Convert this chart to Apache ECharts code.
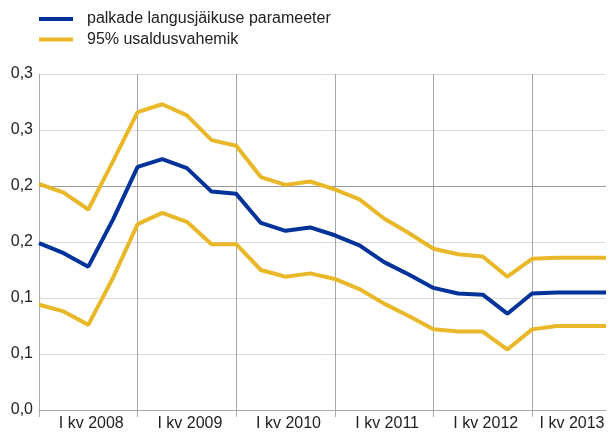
<!DOCTYPE html>
<html>
<head>
<meta charset="utf-8">
<script src="https://cdn.jsdelivr.net/npm/echarts@6/dist/echarts.min.js"></script>
<style>
  html, body { margin: 0; padding: 0; background: #fff; }
  #chart { width: 609px; height: 432px; }
</style>
</head>
<body>
<div id="chart"></div>
<script>
// Quarters 2008 Q1 – 2013 Q4
const years = [2008, 2009, 2010, 2011, 2012, 2013];
const quarterNames = ['I', 'II', 'III', 'IV'];
const quarters = [];
years.forEach(y => quarterNames.forEach(q => quarters.push(q + ' kv ' + y)));

// Wage rigidity parameter and its 95% confidence band
const parameter = [0.149, 0.140, 0.128, 0.170, 0.217, 0.224, 0.216, 0.195,
                   0.193, 0.167, 0.160, 0.163, 0.156, 0.147, 0.132, 0.121,
                   0.109, 0.104, 0.103, 0.086, 0.104, 0.105, 0.105, 0.105];
const upperBand = [0.202, 0.194, 0.179, 0.222, 0.266, 0.273, 0.263, 0.241,
                   0.236, 0.208, 0.201, 0.204, 0.197, 0.188, 0.171, 0.158,
                   0.144, 0.139, 0.137, 0.119, 0.135, 0.136, 0.136, 0.136];
const lowerBand = [0.094, 0.088, 0.076, 0.118, 0.166, 0.176, 0.168, 0.148,
                   0.148, 0.125, 0.119, 0.122, 0.117, 0.108, 0.095, 0.084,
                   0.072, 0.070, 0.070, 0.054, 0.072, 0.075, 0.075, 0.075];

const seriesNames = ['palkade langusjäikuse parameeter', '95% usaldusvahemik'];
const blue = '#003399';
const yellow = '#E8B829';
const font = '"Liberation Sans", Arial, sans-serif';

// Year labels sit in the middle of each year's span on the index scale
const lastIdx = quarters.length - 1;
const yearLabelAt = {};
years.forEach((y, k) => {
  const start = k * 4;
  const end = Math.min(start + 4, lastIdx);
  yearLabelAt[(start + end) / 2] = 'I kv ' + y;
});

const chart = echarts.init(document.getElementById('chart'));
chart.setOption({
  animation: false,
  textStyle: { fontFamily: font },
  grid: { left: 39, right: 0, top: 74, bottom: 22, containLabel: false },
  legend: {
    orient: 'vertical',
    left: 39,
    top: 10,
    padding: 0,
    icon: 'rect',
    itemWidth: 34,
    itemHeight: 4,
    itemGap: 2.5,
    data: seriesNames,
    textStyle: { fontSize: 16, color: '#222', lineHeight: 18, padding: [0, 0, 0, 9], fontFamily: font }
  },
  xAxis: [
    {
      type: 'category',
      data: quarters,
      boundaryGap: false,
      axisLine: { show: true, lineStyle: { color: '#aaa', width: 1 } },
      axisTick: { show: true, length: 7, interval: i => i % 4 === 0, lineStyle: { color: '#aaa' } },
      axisLabel: { show: false },
      splitLine: { show: true, interval: i => i % 4 === 0, lineStyle: { color: '#a6a6a6', width: 1 } }
    },
    {
      type: 'value',
      position: 'bottom',
      min: 0,
      max: lastIdx,
      interval: 0.5,
      axisLine: { show: false },
      axisTick: { show: false },
      splitLine: { show: false },
      axisLabel: {
        margin: 6,
        fontSize: 16,
        color: '#222',
        fontFamily: font,
        padding: [0, 0, 0, 6],
        showMinLabel: true,
        showMaxLabel: true,
        formatter: v => yearLabelAt[Math.round(v * 2) / 2] || ''
      }
    }
  ],
  yAxis: {
    type: 'value',
    min: 0,
    max: 0.3,
    interval: 0.05,
    axisLine: { show: true, lineStyle: { color: '#aaa' } },
    axisTick: { show: false },
    axisLabel: {
      margin: 6,
      fontSize: 16,
      color: '#222',
      fontFamily: font,
      formatter: v => (Math.round(v * 10 + 1e-9) / 10).toFixed(1).replace('.', ',')
    },
    splitLine: {
      show: true,
      lineStyle: { color: ['#dcdcdc', '#dcdcdc', '#dcdcdc', '#dcdcdc', '#9a9a9a', '#dcdcdc', '#dcdcdc'], width: 1 }
    }
  },
  series: [
    {
      name: seriesNames[1],
      type: 'line',
      data: upperBand,
      showSymbol: false,
      symbol: 'none',
      lineStyle: { color: yellow, width: 4 },
      itemStyle: { color: yellow }
    },
    {
      name: seriesNames[1],
      type: 'line',
      data: lowerBand,
      showSymbol: false,
      symbol: 'none',
      lineStyle: { color: yellow, width: 4 },
      itemStyle: { color: yellow }
    },
    {
      name: seriesNames[0],
      type: 'line',
      data: parameter,
      showSymbol: false,
      symbol: 'none',
      lineStyle: { color: blue, width: 4 },
      itemStyle: { color: blue }
    }
  ]
});
</script>
</body>
</html>
